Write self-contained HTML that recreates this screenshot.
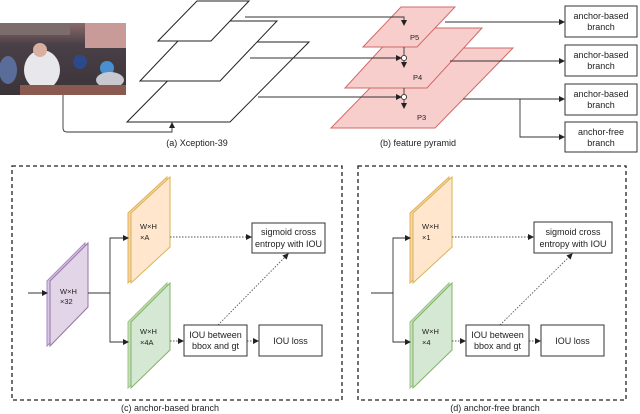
<!DOCTYPE html>
<html><head><meta charset="utf-8"><style>
html,body{margin:0;padding:0;background:#fff;}
svg{display:block;font-family:"Liberation Sans",sans-serif;}
</style></head><body>
<svg width="640" height="414" viewBox="0 0 640 414" xmlns="http://www.w3.org/2000/svg">
<defs>
<marker id="a" markerWidth="6" markerHeight="6" refX="5" refY="3" orient="auto" markerUnits="userSpaceOnUse"><path d="M0,0 L6,3 L0,6 Z" fill="#222"/></marker>
<linearGradient id="ph" x1="0" y1="0" x2="0" y2="1"><stop offset="0" stop-color="#8a6a6a"/><stop offset="0.3" stop-color="#4a4048"/><stop offset="1" stop-color="#3a3438"/></linearGradient>
</defs>
<rect x="0" y="23" width="126" height="72" fill="url(#ph)"/>
<rect x="85" y="23" width="41" height="25" fill="#c89a98"/>
<rect x="0" y="23" width="70" height="12" fill="#7d6c6c"/>
<ellipse cx="42" cy="70" rx="18" ry="20" fill="#e8e8ec"/>
<circle cx="40" cy="50" r="7" fill="#d8b0a0"/>
<ellipse cx="8" cy="70" rx="9" ry="14" fill="#5a6d9a"/>
<circle cx="107" cy="68" r="7" fill="#4a90d0"/>
<ellipse cx="110" cy="80" rx="14" ry="8" fill="#c8c8d0"/>
<circle cx="80" cy="62" r="7" fill="#2c4a8a"/>
<rect x="20" y="85" width="106" height="10" fill="#8a5a50"/>
<g fill="#fff" stroke="#222" stroke-width="1">
<polygon points="127,122 206,42 309,42 230,122"/>
<polygon points="140,81 197,21 277,21 220,81"/>
<polygon points="158,41 197,1 249,1 211,41"/>
</g>
<g fill="#f8cecc" stroke="#d06a6a" stroke-width="1">
<polygon points="331,128 409,48 513,48 435,128"/>
<polygon points="345,88 400,28 482,28 427,88"/>
<polygon points="363,47 401,7 455,7 417,47"/>
</g>
<g font-size="7.5" fill="#222">
<text x="410" y="40">P5</text><text x="413" y="80">P4</text><text x="417" y="120">P3</text>
</g>
<g stroke="#333" stroke-width="0.9" fill="none">
<polyline points="245,17 404,17 404,25" marker-end="url(#a)"/>
<line x1="250" y1="58" x2="401" y2="58" marker-end="url(#a)"/>
<line x1="258" y1="97" x2="401" y2="97" marker-end="url(#a)"/>
<line x1="404" y1="47" x2="404" y2="55"/>
<line x1="404" y1="88" x2="404" y2="94"/>
<circle cx="404" cy="58" r="2.6" fill="#fff"/>
<circle cx="404" cy="97" r="2.6" fill="#fff"/>
<line x1="404" y1="61" x2="404" y2="67" marker-end="url(#a)"/>
<line x1="404" y1="100" x2="404" y2="108" marker-end="url(#a)"/>
<path d="M63,95 L63,128 Q63,132 67,132 L172,132 L172,123" marker-end="url(#a)"/>
<line x1="445" y1="22" x2="564" y2="22" marker-end="url(#a)"/>
<line x1="450" y1="61" x2="564" y2="61" marker-end="url(#a)"/>
<line x1="463" y1="99" x2="564" y2="99" marker-end="url(#a)"/>
<polyline points="520,99 520,137 564,137" marker-end="url(#a)"/>
</g>
<g fill="#fff" stroke="#333" stroke-width="1">
<rect x="565" y="6" width="72" height="31"/><rect x="565" y="45" width="72" height="31"/>
<rect x="565" y="84" width="72" height="31"/><rect x="565" y="122" width="72" height="30"/>
</g>
<g font-size="9" fill="#222" text-anchor="middle">
<text x="601" y="19">anchor-based</text><text x="601" y="30">branch</text>
<text x="601" y="58">anchor-based</text><text x="601" y="69">branch</text>
<text x="601" y="97">anchor-based</text><text x="601" y="108">branch</text>
<text x="601" y="135">anchor-free</text><text x="601" y="146">branch</text>
<text x="197" y="146">(a) Xception-39</text>
<text x="418" y="146">(b) feature pyramid</text>
<text x="170" y="411">(c) anchor-based branch</text>
<text x="495" y="411">(d) anchor-free branch</text>
</g>
<g fill="none" stroke="#222" stroke-width="1.3" stroke-dasharray="4,3">
<rect x="12" y="166" width="330" height="234"/>
<rect x="358" y="166" width="268" height="234"/>
</g>
<g stroke-width="1">
<polygon points="47,281 85,243 85,307 47,346" fill="#d9c8e6" stroke="#a487c4"/>
<polygon points="50,281 88,243 88,307 50,346" fill="#e1d5e7" stroke="#9673a6"/>
<polygon points="128,213 167,177 167,247 128,283" fill="#f6d4aa" stroke="#e6b04e"/>
<polygon points="131,213 170,177 170,247 131,283" fill="#ffe6cc" stroke="#d6b656"/>
<polygon points="128,322 167,283 167,350 128,388" fill="#c6dfbb" stroke="#9cc38a"/>
<polygon points="131,322 170,283 170,350 131,388" fill="#d5e8d4" stroke="#82b366"/>
<polygon points="410,213 449,177 449,247 410,283" fill="#f6d4aa" stroke="#e6b04e"/>
<polygon points="413,213 452,177 452,247 413,283" fill="#ffe6cc" stroke="#d6b656"/>
<polygon points="410,322 449,283 449,350 410,388" fill="#c6dfbb" stroke="#9cc38a"/>
<polygon points="413,322 452,283 452,350 413,388" fill="#d5e8d4" stroke="#82b366"/>
</g>
<g font-size="7.5" fill="#222">
<text x="60" y="294">W×H</text><text x="60" y="304">×32</text>
<text x="140" y="229">W×H</text><text x="140" y="240">×A</text>
<text x="140" y="334">W×H</text><text x="140" y="345">×4A</text>
<text x="422" y="229">W×H</text><text x="422" y="240">×1</text>
<text x="422" y="334">W×H</text><text x="422" y="345">×4</text>
</g>
<g stroke="#333" stroke-width="0.9" fill="none">
<line x1="28" y1="293" x2="47" y2="293" marker-end="url(#a)"/>
<line x1="88" y1="293" x2="110" y2="293"/>
<polyline points="127,238 110,238 110,342 127,342" />
<line x1="118" y1="238" x2="128" y2="238" marker-end="url(#a)"/>
<line x1="118" y1="342" x2="128" y2="342" marker-end="url(#a)"/>
<line x1="371" y1="293" x2="393" y2="293"/>
<polyline points="409,238 393,238 393,342 409,342"/>
<line x1="400" y1="238" x2="410" y2="238" marker-end="url(#a)"/>
<line x1="400" y1="342" x2="410" y2="342" marker-end="url(#a)"/>
</g>
<g stroke="#555" stroke-width="0.9" fill="none" stroke-dasharray="1.5,1.5">
<line x1="170" y1="237" x2="251" y2="237" marker-end="url(#a)"/>
<line x1="170" y1="341" x2="183" y2="341" marker-end="url(#a)"/>
<line x1="247" y1="341" x2="258" y2="341" marker-end="url(#a)"/>
<line x1="218" y1="325" x2="288" y2="254" marker-end="url(#a)"/>
<line x1="452" y1="237" x2="533" y2="237" marker-end="url(#a)"/>
<line x1="452" y1="341" x2="465" y2="341" marker-end="url(#a)"/>
<line x1="529" y1="341" x2="540" y2="341" marker-end="url(#a)"/>
<line x1="500" y1="325" x2="572" y2="254" marker-end="url(#a)"/>
</g>
<g fill="#fff" stroke="#333" stroke-width="1">
<rect x="252" y="223" width="73" height="30"/>
<rect x="184" y="325" width="63" height="31"/>
<rect x="259" y="325" width="63" height="31"/>
<rect x="534" y="222" width="78" height="31"/>
<rect x="466" y="325" width="63" height="31"/>
<rect x="541" y="325" width="63" height="31"/>
</g>
<g font-size="9" fill="#222" text-anchor="middle">
<text x="288.5" y="235">sigmoid cross</text><text x="288.5" y="247">entropy with IOU</text>
<text x="215.5" y="338">IOU between</text><text x="215.5" y="349">bbox and gt</text>
<text x="290.5" y="344">IOU loss</text>
<text x="573" y="235">sigmoid cross</text><text x="573" y="247">entropy with IOU</text>
<text x="497.5" y="338">IOU between</text><text x="497.5" y="349">bbox and gt</text>
<text x="572.5" y="344">IOU loss</text>
</g>
</svg>
</body></html>
